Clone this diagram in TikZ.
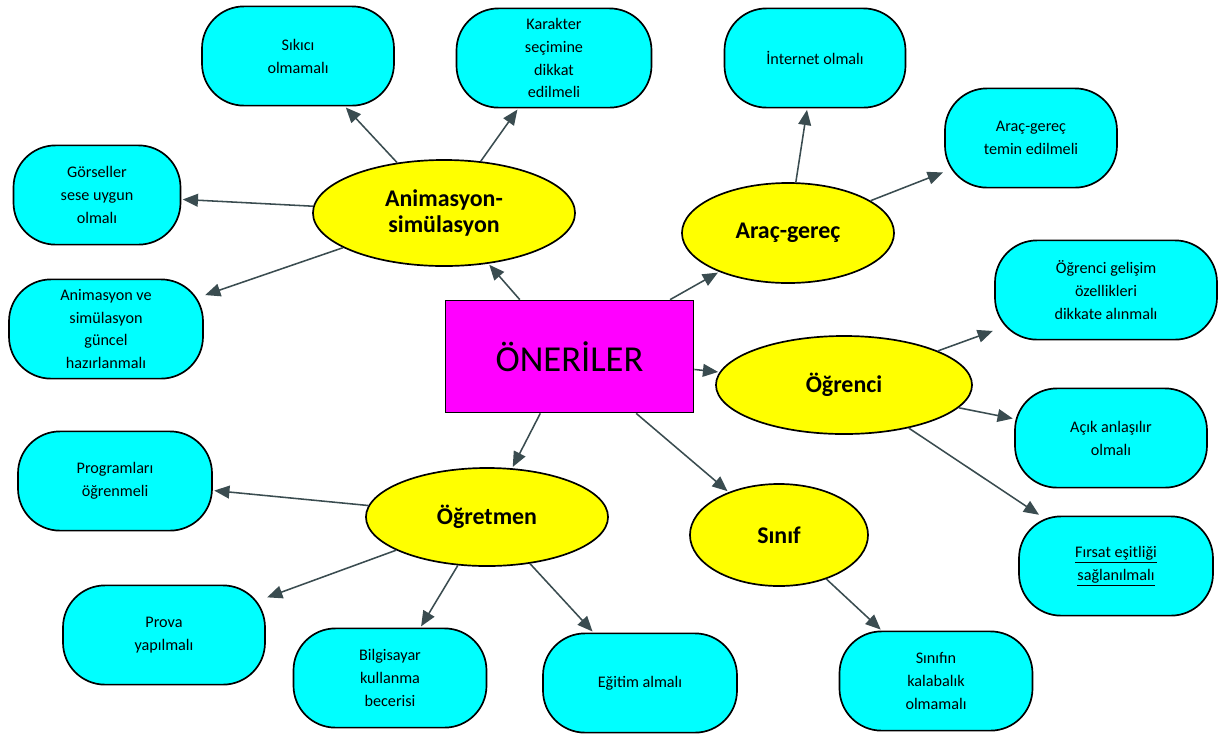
\documentclass[tikz,border=0pt]{standalone}
\usepackage{fontspec}
\setmainfont{Carlito}
\usepackage{tikz}
\usetikzlibrary{shapes,arrows,positioning,arrows.meta}
\definecolor{rootpink}{RGB}{255,0,255}
\definecolor{ideayellow}{RGB}{255,255,0}
\definecolor{hintcyan}{RGB}{0,255,255}
\definecolor{arrowgray}{RGB}{58,76,80}
\tikzstyle{root} = [rectangle, draw, line width=1.2pt, fill=rootpink,
                    minimum width=6.2cm, minimum height=2.8cm,
                    font=\fontsize{26}{30}\selectfont]
\tikzstyle{idea} = [ellipse, draw, line width=1.2pt, fill=ideayellow,
                    inner sep=0pt, align=center,
                    font=\fontsize{17}{19}\selectfont\bfseries]
\tikzstyle{hint} = [rectangle, draw, line width=1.2pt, rounded corners=1.05cm,
                    fill=hintcyan, minimum height=2.48cm, inner sep=2pt,
                    align=center, font=\fontsize{11.5}{16.3}\selectfont]
\tikzstyle{arrow} = [-{Triangle[length=0.38cm,width=0.32cm]}, line width=1.1pt,
                     arrowgray, shorten >=1pt]

\begin{document}
\begin{tikzpicture}[x=0.025cm,y=-0.025cm]
    \useasboundingbox (0,0) rectangle (1219,733);

    % Centre
    \node[root] (oneri) at (569.5,356.5) {ÖNERİLER};

    % Main topics
    \node[idea, minimum width=6.55cm, minimum height=2.65cm] (anim) at (444,213) {Animasyon-\\simülasyon};
    \node[idea, minimum width=5.3cm, minimum height=2.5cm] (arac) at (788,233) {Araç-gereç};
    \node[idea, minimum width=6.4cm, minimum height=2.45cm] (ogrenci) at (844,385) {Öğrenci};
    \node[idea, minimum width=6.05cm, minimum height=2.45cm] (ogretmen) at (487,517) {Öğretmen};
    \node[idea, minimum width=4.45cm, minimum height=2.55cm] (sinif) at (779,535) {Sınıf};

    % Suggestions
    \foreach \n/\x/\y/\w/\txt in {
        sikici/298/56/192/{Sıkıcı\\olmamalı},
        karakter/554/58/195/{Karakter\\seçimine\\dikkat\\edilmeli},
        gorsel/97/195/167/{Görseller\\sese uygun\\olmalı},
        guncel/106/329/194/{Animasyon ve\\simülasyon\\güncel\\hazırlanmalı},
        internet/815/58/181/{İnternet olmalı},
        temin/1031/138/172/{Araç-gereç\\temin edilmeli},
        gelisim/1106/290/222/{Öğrenci gelişim\\özellikleri\\dikkate alınmalı},
        acik/1111/438/192/{Açık anlaşılır\\olmalı},
        firsat/1116/566/194/{\underline{Fırsat eşitliği}\\\underline{sağlanılmalı}},
        kalabalik/936/681/193/{Sınıfın\\kalabalık\\olmamalı},
        program/115/481/194/{Programları\\öğrenmeli},
        prova/164/635/202/{Prova\\yapılmalı},
        bilgisayar/390/678/193/{Bilgisayar\\kullanma\\becerisi},
        egitim/640/683/194/{Eğitim almalı}} {
        \node[hint, minimum width=\w*0.025cm] (\n) at (\x,\y) {\txt};
    }

    % Connectors
    \foreach \a/\b in {oneri/anim, oneri/arac, oneri/ogrenci, oneri/ogretmen, oneri/sinif,
        anim/sikici, anim/karakter, anim/gorsel, anim/guncel,
        arac/internet, arac/temin,
        ogrenci/gelisim, ogrenci/acik, ogrenci/firsat,
        sinif/kalabalik,
        ogretmen/program, ogretmen/prova, ogretmen/bilgisayar, ogretmen/egitim} {
        \draw[arrow] (\a) -- (\b);
    }
\end{tikzpicture}
\end{document}
